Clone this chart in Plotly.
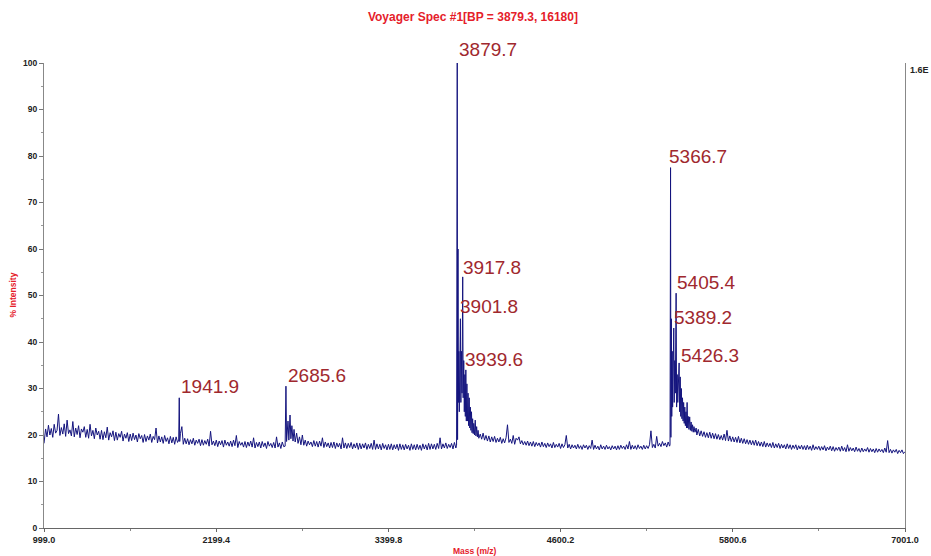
import plotly.graph_objects as go

# ---- data (m/z, % intensity) ----
mz = [
    999, 1010, 1020, 1030, 1040, 1050, 1060, 1070, 1080, 1090,
    1100, 1110, 1120, 1130, 1140, 1150, 1160, 1170, 1180, 1190,
    1200, 1210, 1220, 1230, 1240, 1250, 1260, 1270, 1280, 1290,
    1300, 1310, 1320, 1330, 1340, 1350, 1360, 1370, 1380, 1390,
    1400, 1410, 1420, 1430, 1440, 1450, 1460, 1470, 1480, 1490,
    1500, 1510, 1520, 1530, 1540, 1550, 1560, 1570, 1580, 1590,
    1600, 1610, 1620, 1630, 1640, 1650, 1660, 1670, 1680, 1690,
    1700, 1710, 1720, 1730, 1740, 1750, 1760, 1770, 1780, 1790,
    1800, 1810, 1820, 1830, 1840, 1850, 1860, 1870, 1880, 1890,
    1900, 1910, 1920, 1930, 1938, 1941.9, 1945, 1950, 1960, 1970, 1980, 1990,
    2000, 2010, 2020, 2030, 2040, 2050, 2060, 2070, 2080, 2090,
    2100, 2110, 2120, 2130, 2140, 2150, 2160, 2170, 2180, 2190,
    2200, 2210, 2220, 2230, 2240, 2250, 2260, 2270, 2280, 2290,
    2300, 2310, 2320, 2330, 2340, 2350, 2360, 2370, 2380, 2390,
    2400, 2410, 2420, 2430, 2440, 2450, 2460, 2470, 2480, 2490,
    2500, 2510, 2520, 2530, 2540, 2550, 2560, 2570, 2580, 2590,
    2600, 2610, 2620, 2630, 2640, 2650, 2660, 2670, 2680,
    2685.6, 2690, 2700, 2706, 2714, 2720, 2727, 2735, 2742, 2750, 2760, 2770, 2780, 2790,
    2800, 2810, 2820, 2830, 2840, 2850, 2860, 2870, 2880, 2890,
    2900, 2910, 2920, 2930, 2940, 2950, 2960, 2970, 2980, 2990,
    3000, 3010, 3020, 3030, 3040, 3050, 3060, 3070, 3080, 3090,
    3100, 3110, 3120, 3130, 3140, 3150, 3160, 3170, 3180, 3190,
    3200, 3210, 3220, 3230, 3240, 3250, 3260, 3270, 3280, 3290,
    3300, 3310, 3320, 3330, 3340, 3350, 3360, 3370, 3380, 3390,
    3400, 3410, 3420, 3430, 3440, 3450, 3460, 3470, 3480, 3490,
    3500, 3510, 3520, 3530, 3540, 3550, 3560, 3570, 3580, 3590,
    3600, 3610, 3620, 3630, 3640, 3650, 3660, 3670, 3680, 3690,
    3700, 3710, 3720, 3730, 3740, 3750, 3760, 3770, 3780, 3790,
    3800, 3810, 3820, 3830, 3840, 3850, 3860, 3870,
    3875, 3879.7, 3882, 3885, 3888, 3891, 3894, 3897, 3899, 3901.8,
    3905, 3909, 3913, 3917.8, 3921, 3925, 3929, 3933, 3936, 3939.6,
    3943, 3947, 3951, 3955, 3959, 3963, 3967, 3971, 3975, 3979,
    3983, 3987, 3991, 3995,
    4000, 4005, 4010, 4015, 4020, 4025, 4030, 4040, 4050, 4060, 4070, 4080, 4090,
    4100, 4110, 4120, 4130, 4140, 4150, 4160, 4170, 4180, 4190,
    4200, 4210, 4220, 4230, 4240, 4250, 4260, 4270, 4280, 4290,
    4300, 4310, 4320, 4330, 4340, 4350, 4360, 4370, 4380, 4390,
    4400, 4410, 4420, 4430, 4440, 4450, 4460, 4470, 4480, 4490,
    4500, 4510, 4520, 4530, 4540, 4550, 4560, 4570, 4580, 4590,
    4600, 4610, 4620, 4630, 4640, 4650, 4660, 4670, 4680, 4690,
    4700, 4710, 4720, 4730, 4740, 4750, 4760, 4770, 4780, 4790,
    4800, 4810, 4820, 4830, 4840, 4850, 4860, 4870, 4880, 4890,
    4900, 4910, 4920, 4930, 4940, 4950, 4960, 4970, 4980, 4990,
    5000, 5010, 5020, 5030, 5040, 5050, 5060, 5070, 5080, 5090,
    5100, 5110, 5120, 5130, 5140, 5150, 5160, 5170, 5180, 5190,
    5200, 5210, 5220, 5230, 5240, 5250, 5260, 5270, 5280, 5290,
    5300, 5310, 5320, 5330, 5340, 5350, 5360,
    5363, 5366.7, 5369, 5372, 5375, 5378, 5381, 5385, 5389.2, 5392,
    5396, 5400, 5405.4, 5409, 5413, 5417, 5421, 5426.3, 5430, 5434,
    5438, 5442, 5446, 5450, 5454, 5458, 5462, 5466, 5470, 5474,
    5478, 5482, 5486, 5490, 5495,
    5500, 5505, 5510, 5515, 5520, 5525, 5530, 5537, 5545, 5550, 5560, 5570, 5580, 5590,
    5600, 5610, 5620, 5630, 5640, 5650, 5660, 5670, 5680, 5690,
    5700, 5710, 5720, 5730, 5740, 5750, 5760, 5770, 5780, 5790,
    5800, 5810, 5820, 5830, 5840, 5850, 5860, 5870, 5880, 5890,
    5900, 5910, 5920, 5930, 5940, 5950, 5960, 5970, 5980, 5990,
    6000, 6010, 6020, 6030, 6040, 6050, 6060, 6070, 6080, 6090,
    6100, 6110, 6120, 6130, 6140, 6150, 6160, 6170, 6180, 6190,
    6200, 6210, 6220, 6230, 6240, 6250, 6260, 6270, 6280, 6290,
    6300, 6310, 6320, 6330, 6340, 6350, 6360, 6370, 6380, 6390,
    6400, 6410, 6420, 6430, 6440, 6450, 6460, 6470, 6480, 6490,
    6500, 6510, 6520, 6530, 6540, 6550, 6560, 6570, 6580, 6590,
    6600, 6610, 6620, 6630, 6640, 6650, 6660, 6670, 6680, 6690,
    6700, 6710, 6720, 6730, 6740, 6750, 6760, 6770, 6780, 6790,
    6800, 6810, 6820, 6830, 6840, 6850, 6860, 6870, 6880, 6890,
    6900, 6910, 6920, 6930, 6940, 6950, 6960, 6970, 6980, 6990,
    7000,
]

intensity = [
    18.2, 21.3, 19.6, 22.1, 20.0, 21.4, 19.5, 22.3, 20.4, 21.0,
    24.5, 19.9, 21.6, 20.2, 22.4, 19.7, 23.2, 20.3, 21.1, 19.8,
    22.9, 19.6, 21.5, 20.1, 22.0, 19.4, 21.3, 20.6, 21.8, 19.5,
    21.2, 19.3, 22.3, 19.8, 21.0, 19.2, 21.5, 20.0, 20.8, 19.1,
    21.0, 19.0, 20.7, 19.4, 21.7, 18.9, 20.5, 19.6, 20.9, 18.8,
    20.6, 18.9, 20.3, 19.5, 20.8, 18.7, 20.2, 19.3, 20.5, 18.6,
    20.2, 18.8, 20.4, 19.0, 20.0, 18.5, 20.3, 19.2, 19.9, 18.4,
    20.1, 18.6, 19.8, 18.9, 20.2, 18.4, 19.7, 19.0, 21.5, 18.3,
    19.8, 18.5, 19.6, 18.2, 19.9, 18.6, 19.4, 18.1, 19.7, 18.3,
    19.5, 18.0, 19.6, 18.4, 18.9, 28.0, 18.6, 20.3, 21.8, 18.0, 19.3, 18.1,
    19.2, 17.9, 19.0, 18.1, 19.3, 17.8, 18.9, 18.2, 19.1, 17.7,
    19.0, 17.8, 18.8, 18.0, 19.1, 17.6, 20.8, 17.9, 18.7, 17.7,
    18.9, 17.5, 18.7, 17.9, 18.8, 17.4, 18.9, 17.8, 18.5, 17.6,
    18.7, 17.5, 18.9, 17.7, 19.9, 17.3, 18.6, 17.8, 18.4, 17.4,
    18.6, 17.3, 18.5, 17.6, 18.7, 17.4, 19.4, 17.2, 18.4, 17.5,
    18.5, 17.2, 18.6, 17.5, 18.3, 17.1, 18.6, 17.6, 18.2, 17.3,
    18.4, 17.2, 19.6, 17.4, 18.3, 17.1, 18.5, 17.5, 17.6,
    30.5, 18.6, 23.0, 18.9, 24.3, 19.2, 22.0, 18.7, 21.2, 18.5, 20.4, 18.2, 19.6, 17.9,
    20.0, 17.8, 18.9, 17.6, 18.7, 17.9, 18.5, 17.5, 18.8, 17.6,
    18.6, 17.4, 18.7, 17.6, 19.4, 17.3, 18.5, 17.5, 18.3, 17.2,
    18.4, 17.3, 18.5, 17.1, 18.3, 17.4, 18.2, 17.0, 19.4, 17.2,
    18.3, 17.1, 18.2, 17.3, 18.4, 17.0, 18.1, 17.2, 18.3, 16.9,
    18.2, 17.0, 18.1, 17.2, 18.3, 16.9, 18.0, 17.1, 18.2, 16.9,
    18.9, 16.9, 18.1, 17.0, 18.0, 16.8, 18.2, 17.1, 17.9, 16.8,
    18.0, 16.9, 18.1, 16.8, 17.9, 17.0, 18.0, 16.7, 18.1, 16.9,
    17.9, 16.8, 18.0, 17.0, 17.8, 16.7, 18.1, 16.9, 17.9, 16.8,
    18.0, 16.9, 17.8, 16.7, 18.1, 17.0, 17.9, 16.8, 18.2, 16.9,
    18.1, 17.0, 18.0, 16.9, 18.2, 17.1, 19.4, 17.0, 18.1, 17.2,
    18.3, 17.1, 18.0, 17.3, 18.2, 17.0, 18.4, 17.2,
    17.8, 100.0, 19.0, 60.0, 27.0, 38.0, 25.0, 40.0, 30.0, 45.0,
    27.0, 38.0, 29.0, 54.0, 28.0, 36.0, 25.0, 33.0, 24.0, 34.0,
    23.0, 31.0, 23.0, 29.0, 22.0, 28.0, 21.5, 26.0, 21.0, 25.0,
    20.5, 23.5, 20.3, 22.5,
    20.0, 23.2, 19.8, 21.8, 19.6, 21.0, 19.3, 20.2, 19.1, 20.4, 18.9, 19.9, 18.7,
    19.8, 18.5, 19.6, 18.6, 19.7, 18.4, 19.3, 18.5, 19.5, 18.2,
    19.2, 18.3, 19.4, 22.2, 18.4, 19.1, 18.2, 19.9, 18.0, 19.3,
    18.9, 19.6, 18.1, 18.8, 17.9, 18.6, 17.8, 18.7, 17.7, 18.5,
    17.6, 18.6, 17.5, 18.4, 17.7, 18.3, 17.4, 18.5, 17.5, 18.2,
    17.3, 18.3, 17.5, 18.1, 17.2, 18.4, 17.3, 18.0, 17.4, 18.2,
    17.1, 18.1, 17.3, 17.9, 19.9, 17.2, 18.0, 17.0, 17.9, 17.2,
    17.8, 17.0, 18.0, 17.1, 17.7, 16.9, 17.9, 17.2, 17.8, 16.9,
    17.7, 17.1, 18.9, 16.9, 17.8, 17.0, 17.6, 16.8, 17.9, 17.0,
    17.6, 16.9, 17.8, 17.0, 17.5, 16.8, 17.7, 17.0, 17.6, 16.8,
    17.7, 16.9, 17.8, 17.1, 17.6, 16.9, 17.9, 17.0, 18.6, 16.9,
    17.8, 17.0, 17.7, 16.9, 17.9, 17.1, 17.6, 16.9, 17.8, 17.0,
    17.7, 17.1, 17.9, 20.9, 17.3, 18.0, 17.2, 19.7, 17.6, 18.2,
    17.5, 18.6, 17.7, 18.3, 17.4, 18.5, 17.6,
    17.9, 77.5, 19.5, 45.0, 24.0, 38.0, 26.0, 40.0, 43.0, 27.0,
    36.0, 29.0, 50.5, 26.0, 33.0, 27.0, 31.0, 35.5, 25.0, 32.5,
    24.0, 30.0, 23.5, 28.0, 23.0, 27.0, 22.5, 26.0, 22.0, 25.0,
    21.5, 27.0, 21.5, 24.0, 21.2,
    23.9, 21.0, 22.8, 20.8, 22.2, 20.6, 21.8, 20.6, 21.5, 20.0, 21.2, 19.8, 20.9, 19.7,
    20.7, 19.5, 20.5, 19.4, 20.6, 19.3, 20.4, 19.2, 20.3, 19.1,
    20.1, 19.0, 19.9, 18.9, 20.2, 18.8, 21.0, 18.7, 19.8, 18.6,
    19.6, 18.5, 19.5, 18.4, 19.7, 18.3, 19.3, 18.2, 19.2, 18.1,
    19.0, 18.0, 18.9, 17.9, 18.8, 17.8, 18.9, 17.7, 18.6, 17.6,
    18.5, 17.5, 18.6, 17.4, 18.3, 17.5, 18.2, 17.3, 18.4, 17.2,
    18.1, 17.3, 18.2, 17.1, 18.0, 17.2, 17.9, 17.0, 18.1, 17.1,
    17.9, 16.9, 17.8, 17.1, 17.9, 16.8, 17.7, 17.0, 17.8, 16.9,
    17.7, 16.8, 17.8, 16.9, 17.6, 16.7, 17.9, 16.8, 17.5, 16.9,
    17.6, 16.7, 17.5, 16.8, 17.7, 16.6, 17.4, 16.8, 17.6, 16.6,
    17.5, 16.5, 17.3, 16.7, 17.4, 16.5, 17.6, 16.6, 17.3, 16.4,
    17.9, 16.5, 17.3, 16.6, 17.2, 16.4, 17.4, 16.5, 17.1, 16.3,
    17.2, 16.4, 17.0, 16.5, 17.3, 16.3, 17.1, 16.4, 17.0, 16.2,
    17.1, 16.3, 17.0, 16.4, 16.9, 16.2, 17.2, 16.3, 18.8, 16.2,
    16.9, 16.1, 16.8, 16.3, 16.9, 16.0, 16.7, 16.2, 16.8, 16.0,
    16.4,
]
assert len(mz) == len(intensity), (len(mz), len(intensity))

label_text = ["1941.9", "2685.6", "3879.7", "3917.8", "3901.8", "3939.6",
              "5366.7", "5405.4", "5389.2", "5426.3"]
label_x = [1940, 2686, 3878, 3906, 3885, 3920, 5342, 5398, 5377, 5426]
label_y = [30.5, 32.7, 102.8, 56.1, 47.7, 36.3, 79.8, 52.7, 45.2, 37.0]

x_tickvals = [999.0, 2199.4, 3399.8, 4600.2, 5800.6, 7001.0]
x_ticktext = ["999.0", "2199.4", "3399.8", "4600.2", "5800.6", "7001.0"]

title_text = "Voyager Spec #1[BP = 3879.3, 16180]"

# ---- figure ----
RED = "#e5202a"
LBL = "#a0282e"
NARROW = "Liberation Sans Narrow, Arial Narrow, Liberation Sans, Arial, sans-serif"
Y_MAX = 100
PX_PER_UNIT = 465 / 100  # plot height / y-range

fig = go.Figure()
fig.add_trace(go.Scatter(x=mz, y=intensity, mode="lines",
                         line=dict(color="#14147e", width=1),
                         hoverinfo="skip", showlegend=False))

for xv, t, yv in zip(label_x, label_text, label_y):
    y_anchor = min(yv, Y_MAX)
    fig.add_annotation(x=xv, y=y_anchor, text=t, showarrow=False, xanchor="left",
                       yanchor="middle", yshift=(yv - y_anchor) * PX_PER_UNIT,
                       font=dict(family="Liberation Sans, Arial", size=19, color=LBL))

fig.add_annotation(xref="paper", yref="paper", x=0.5, y=0, yshift=-23,
                   text="Mass (m/z)", showarrow=False, yanchor="middle",
                   font=dict(family=NARROW, size=8.5, color=RED, weight="bold"))
fig.add_annotation(xref="paper", yref="paper", x=0, y=0.5, xshift=-32,
                   text="% Intensity", showarrow=False, textangle=-90,
                   xanchor="center", yanchor="middle",
                   font=dict(family=NARROW, size=8.5, color=RED, weight="bold"))
fig.add_annotation(xref="paper", yref="paper", x=1, y=0.985, xshift=3,
                   text="1.6E", showarrow=False, xanchor="left", yanchor="middle",
                   font=dict(family=NARROW, size=9, color="#222", weight="bold"))

fig.update_layout(
    width=931, height=556,
    margin=dict(l=44, r=26, t=63, b=28),
    paper_bgcolor="white", plot_bgcolor="white",
    title=dict(text=title_text, x=0.508, xanchor="center", y=1 - 17 / 556,
               yanchor="middle",
               font=dict(family="Liberation Sans, Arial", size=12, color=RED, weight="bold")),
    xaxis=dict(range=[999, 7001], tickmode="array", tickvals=x_tickvals,
               ticktext=x_ticktext, showgrid=False, zeroline=False,
               showline=True, linecolor="#666", linewidth=1,
               ticks="outside", ticklen=3, tickcolor="#666",
               minor=dict(tick0=999, dtick=600.2, ticks="outside", ticklen=2,
                          tickcolor="#888", showgrid=False),
               tickfont=dict(family=NARROW, size=9, color="#222", weight="bold")),
    yaxis=dict(range=[0, Y_MAX], dtick=10, tick0=0, showgrid=False, zeroline=False,
               showline=True, linecolor="#888", linewidth=1, mirror=True,
               ticks="outside", ticklen=4, tickcolor="#777",
               minor=dict(dtick=5, ticks="outside", ticklen=2, tickcolor="#999",
                          showgrid=False),
               tickfont=dict(family=NARROW, size=8.5, color="#222", weight="bold")),
)

fig.write_html("out.html", config={"displayModeBar": False},
               post_script="document.body.style.margin='0';document.body.style.padding='0';")
